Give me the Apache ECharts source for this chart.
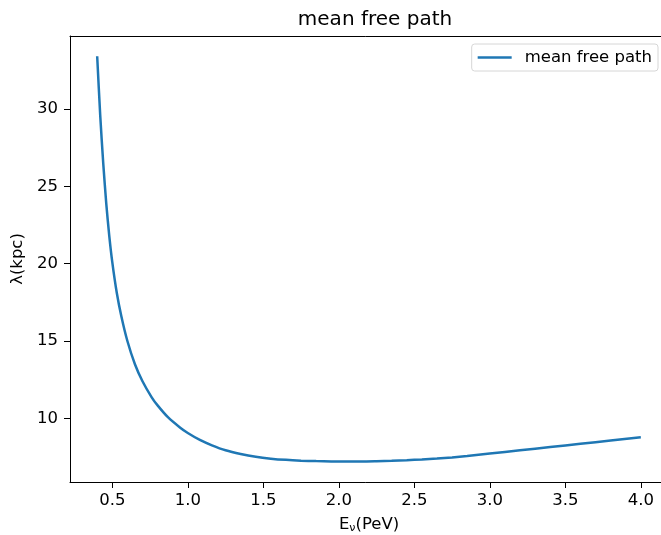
<!DOCTYPE html>
<html>
<head>
<meta charset="utf-8">
<script src="https://cdn.jsdelivr.net/npm/echarts@6/dist/echarts.min.js"></script>
<style>
html,body{margin:0;padding:0;background:#fff;}
#main{width:661px;height:535px;}
</style>
</head>
<body>
<div id="main"></div>
<script>
const energy = [0.40,0.42,0.44,0.46,0.48,0.50,0.53,0.56,0.60,0.65,0.70,0.76,0.80,0.87,0.95,1.00,1.08,1.16,1.25,1.35,1.45,1.55,1.65,1.75,1.85,1.95,2.05,2.15,2.25,2.35,2.45,2.55,2.65,2.75,2.85,3.00,3.20,3.40,3.60,3.80,4.00];
const meanFreePath = [33.4,29.6,26.5,23.9,21.8,20.1,18.1,16.6,15.0,13.5,12.4,11.38,10.84,10.06,9.40,9.06,8.61,8.26,7.94,7.70,7.52,7.40,7.32,7.27,7.24,7.22,7.21,7.21,7.23,7.26,7.30,7.35,7.41,7.48,7.57,7.73,7.94,8.15,8.36,8.57,8.78];
const xTicks = [0.5,1.0,1.5,2.0,2.5,3.0,3.5,4.0];
const yTicks = [10,15,20,25,30];

const font = 'DejaVu Sans';
const fs = 16.5;
const chart = echarts.init(document.getElementById('main'));
chart.setOption({
  animation: false,
  title: {
    text: 'mean free path', left: 370, top: 5, textAlign: 'center',
    textStyle: {fontFamily: font, fontSize: 20, fontWeight: 'normal', color: '#000'}
  },
  legend: {
    right: 3, top: 44,
    padding: [5, 6, 5, 6],
    itemWidth: 34, itemHeight: 2.5, itemGap: 10,
    borderColor: '#d6d6d6', borderWidth: 1, borderRadius: 3,
    backgroundColor: '#fff',
    icon: 'rect',
    textStyle: {fontFamily: font, fontSize: fs, color: '#000', padding: [0,0,0,8]},
    data: ['mean free path']
  },
  grid: {left: 70, top: 36, width: 598, height: 446, containLabel: false, outerBoundsMode: 'none'},
  xAxis: [{
    type: 'value', min: 0.22, max: 4.18,
    name: 'E{s|ν}(PeV)', nameLocation: 'middle', nameGap: 34,
    nameTextStyle: {fontFamily: font, fontSize: fs, color: '#000',
      rich: {s: {fontFamily: font, fontSize: 11, color: '#000', verticalAlign: 'bottom', padding: [7,0,0,0]}}},
    axisLine: {show: true, onZero: false, lineStyle: {color: '#000', width: 1}},
    axisTick: {show: true, length: 6, inside: false, customValues: xTicks, lineStyle: {color: '#000'}},
    axisLabel: {customValues: xTicks, margin: 10, fontFamily: font, fontSize: fs, color: '#000',
      formatter: v => v.toFixed(1)},
    splitLine: {show: false}
  }, {
    type: 'value', position: 'top', min: 0.22, max: 4.18,
    axisLine: {show: true, lineStyle: {color: '#000', width: 1}},
    axisTick: {show: false}, axisLabel: {show: false}, splitLine: {show: false}
  }],
  yAxis: {
    type: 'value', min: 5.89, max: 34.71,
    name: 'λ(kpc)', nameLocation: 'middle', nameGap: 44, nameRotate: 90,
    nameTextStyle: {fontFamily: font, fontSize: fs, color: '#000'},
    axisLine: {show: true, onZero: false, lineStyle: {color: '#000', width: 1}},
    axisTick: {show: true, length: 6, customValues: yTicks, lineStyle: {color: '#000'}},
    axisLabel: {customValues: yTicks, margin: 12, fontFamily: font, fontSize: fs, color: '#000'},
    splitLine: {show: false}
  },
  series: [{
    name: 'mean free path', type: 'line', xAxisIndex: 0,
    data: energy.map((e, i) => [e, meanFreePath[i]]),
    showSymbol: false, symbol: 'none', smooth: 0.25,
    lineStyle: {color: '#1f77b4', width: 2.5},
    itemStyle: {color: '#1f77b4'}
  }]
});
</script>
</body>
</html>
